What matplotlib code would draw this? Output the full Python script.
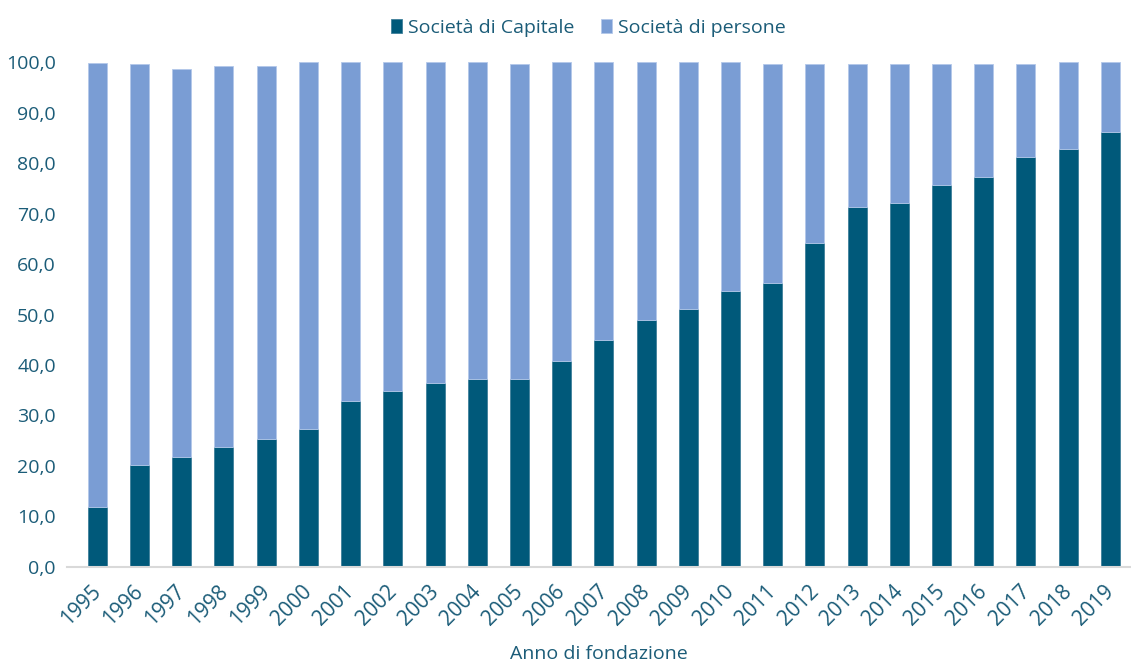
import matplotlib.pyplot as plt
import matplotlib.transforms as mtransforms
import numpy as np

anni = [str(a) for a in range(1995, 2020)]
capitale = [11.9, 20.1, 21.7, 23.7, 25.4, 27.3, 32.9, 34.9, 36.5, 37.2, 37.2, 40.8, 45.0,
            49.0, 51.0, 54.7, 56.2, 64.1, 71.3, 72.0, 75.6, 77.3, 81.2, 82.8, 86.1]
totale = [99.9, 99.6, 98.6, 99.3, 99.3, 100.0, 100.0, 100.0, 100.0, 100.0, 99.6, 100.0, 100.0,
          100.0, 100.0, 100.0, 99.6, 99.6, 99.6, 99.6, 99.6, 99.6, 99.6, 100.0, 100.0]
persone = [round(t - c, 1) for t, c in zip(totale, capitale)]

scuro = "#00597a"
chiaro = "#7a9dd4"
testo = "#1b5c78"

plt.rcParams['font.family'] = ['Open Sans', 'DejaVu Sans']

fig = plt.figure(figsize=(11.31, 6.64), dpi=100)
ax = fig.add_axes([0.0592, 0.1461, 0.9412, 0.7605])

x = np.arange(len(anni))
ax.bar(x, capitale, width=0.45, color=scuro, edgecolor="#3f7f9a", linewidth=0.6,
       label="Società di Capitale")
ax.bar(x, persone, width=0.45, bottom=capitale, color=chiaro, edgecolor="#b3c8ea",
       linewidth=0.6, label="Società di persone")

ax.set_xlim(-0.72, 24.5)
ax.set_ylim(0, 100)
ax.set_yticks(np.arange(0, 101, 10))
ax.set_yticklabels([f"{v:.1f}".replace(".", ",") for v in range(0, 101, 10)])
ax.set_xticks(x)
ax.set_xticklabels(anni, rotation=45, ha="right", rotation_mode="anchor")

for s in ["top", "right", "left"]:
    ax.spines[s].set_visible(False)
ax.spines["bottom"].set_color("#d9d9d9")
ax.spines["bottom"].set_linewidth(1.5)
ax.tick_params(axis="y", length=0, colors=testo, labelsize=14, pad=8)
ax.tick_params(axis="x", length=0, colors=testo, labelsize=15, pad=10)

# sposto un po' a sinistra le etichette degli anni
sposta = mtransforms.ScaledTranslation(-5 / 72, 0, fig.dpi_scale_trans)
for lab in ax.get_xticklabels():
    lab.set_transform(lab.get_transform() + sposta)

ax.set_xlabel("Anno di fondazione", color=testo, fontsize=14, labelpad=11)

ax.legend(loc="upper center", bbox_to_anchor=(0.49, 1.12), ncol=2, frameon=False,
          fontsize=14, labelcolor=testo, handlelength=0.55, handleheight=0.7,
          handletextpad=0.3, columnspacing=1.4)

fig.savefig("out.png", dpi=100)
